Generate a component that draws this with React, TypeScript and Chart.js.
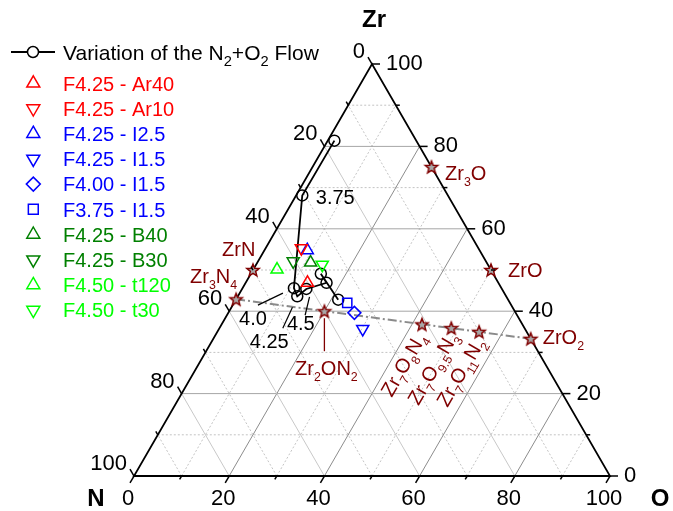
import React, { useEffect, useRef } from 'react';
import { Chart, registerables } from 'chart.js';
Chart.register(...registerables);

// ---------- DATA (ternary compositions in at.%: Zr, O, N) ----------
const flowLabels = ['', '3.75', '4.0', '4.25', '4.5', '', '', ''];
const flowZr = [81.4, 68.1, 45.6, 43.6, 45.4, 46.9, 49.1, 42.8];
const flowO = [1.4, 1.3, 10.8, 12.5, 13.5, 17.0, 14.7, 21.5];
const flowN = [17.2, 30.6, 43.6, 43.9, 41.1, 36.1, 36.2, 35.7];

const sampleNames = ['F4.25 - Ar40', 'F4.25 - Ar10', 'F4.25 - I2.5', 'F4.25 - I1.5', 'F4.00 - I1.5', 'F3.75 - I1.5', 'F4.25 - B40', 'F4.25 - B30', 'F4.50 - t120', 'F4.50 - t30'];
const sampleZr = [46.9, 55.3, 54.8, 35.7, 39.6, 42.0, 51.8, 52.1, 50.1, 51.3];
const sampleO = [13.0, 7.5, 9.0, 30.2, 26.5, 23.8, 11.2, 7.4, 5.0, 13.9];
const sampleN = [40.1, 37.2, 36.2, 34.1, 33.9, 34.2, 37.0, 40.5, 44.9, 34.8];

const compoundNames = ['ZrN', 'Zr_3N_4', 'Zr_3O', 'ZrO', 'ZrO_2', 'Zr_2ON_2', 'Zr_7O_8N_4', 'Zr_7O_{9.5}N_3', 'Zr_7O_{11}N_2'];
const compoundZr = [50, 42.9, 75, 50, 33.3, 40, 36.8, 35.9, 35];
const compoundO = [0, 0, 25, 50, 66.7, 20, 42.1, 48.7, 55];
const compoundN = [50, 57.1, 0, 0, 0, 40, 21.1, 15.4, 10];

const tieLineIdx = [1, 4]; // Zr3N4 -> ZrO2

const majorTicks = [0, 20, 40, 60, 80, 100];
const minorTicks = [10, 30, 50, 70, 90];

// ---------- STYLES / PLACEMENT ----------
const SQ3 = Math.sqrt(3) / 2;
const MAROON = '#800000';
const FONT = '"Liberation Sans", Arial, sans-serif';
const sampleColors = ['#FF0000', '#FF0000', '#0000FF', '#0000FF', '#0000FF', '#0000FF', '#008000', '#008000', '#00FF00', '#00FF00'];
const sampleShapes = ['up', 'down', 'up', 'down', 'diamond', 'square', 'up', 'down', 'up', 'down'];

const compoundLabelDx = [-31, 1, 13.5, 17, 12, 2, -19, -19, -19];
const compoundLabelDy = [-14, -16, 13, 6.7, 5.3, 64, 40, 40, 40];
const compoundLabelMode = ['left', 'right', 'left', 'left', 'left', 'center', 'rot', 'rot', 'rot'];

const flowLabelDx = [0, 33, -41, -28, -5.5, 0, 0, 0];
const flowLabelDy = [0, 3, 31, 46, 36, 0, 0, 0];
const flowLeaders: (number[] | null)[] = [null, null, [-36, 17, -11, 5], [-14.5, 32, -4.8, 11], [-1.2, 26.3, 3.2, 8], null, null, null];

function toXY(zr: number, o: number) {
  return { x: o + zr / 2, y: zr * SQ3 };
}

type Part = { t: string; sub: boolean };
function parseRich(s: string): Part[] {
  const out: Part[] = [];
  let buf = '';
  let i = 0;
  while (i < s.length) {
    if (s[i] === '_') {
      if (buf) { out.push({ t: buf, sub: false }); buf = ''; }
      if (s[i + 1] === '{') {
        const j = s.indexOf('}', i);
        out.push({ t: s.slice(i + 2, j), sub: true });
        i = j + 1;
      } else {
        out.push({ t: s[i + 1], sub: true });
        i += 2;
      }
    } else {
      buf += s[i];
      i++;
    }
  }
  if (buf) out.push({ t: buf, sub: false });
  return out;
}

function drawRich(ctx: CanvasRenderingContext2D, s: string, x: number, y: number, size: number, color: string, align: string, subRatio = 0.62) {
  const parts = parseRich(s);
  const subSize = size * subRatio;
  let total = 0;
  const widths = parts.map((p) => {
    ctx.font = `${p.sub ? subSize : size}px ${FONT}`;
    const w = ctx.measureText(p.t).width;
    total += w;
    return w;
  });
  let cx = x;
  if (align === 'center') cx = x - total / 2;
  else if (align === 'right') cx = x - total;
  ctx.fillStyle = color;
  ctx.textAlign = 'left';
  ctx.textBaseline = 'alphabetic';
  parts.forEach((p, k) => {
    ctx.font = `${p.sub ? subSize : size}px ${FONT}`;
    ctx.fillText(p.t, cx, p.sub ? y + size * 0.3 : y);
    cx += widths[k];
  });
}

function drawMarker(ctx: CanvasRenderingContext2D, shape: string, x: number, y: number, color: string) {
  ctx.save();
  ctx.strokeStyle = color;
  ctx.lineWidth = 1.5;
  ctx.beginPath();
  if (shape === 'up' || shape === 'down') {
    const r = 7.5;
    const s = shape === 'up' ? 1 : -1;
    ctx.moveTo(x, y - s * r);
    ctx.lineTo(x + r * 0.866, y + s * r * 0.5);
    ctx.lineTo(x - r * 0.866, y + s * r * 0.5);
    ctx.closePath();
  } else if (shape === 'diamond') {
    const r = 7;
    ctx.moveTo(x - r, y); ctx.lineTo(x, y - r); ctx.lineTo(x + r, y); ctx.lineTo(x, y + r); ctx.closePath();
  } else if (shape === 'square') {
    const h = 7 * Math.SQRT1_2;
    ctx.rect(x - h, y - h, 2 * h, 2 * h);
  } else if (shape === 'circle') {
    ctx.arc(x, y, 5.5, 0, Math.PI * 2);
  }
  ctx.stroke();
  ctx.restore();
}

const ternaryPlugin = {
  id: 'ternary',
  beforeDatasetsDraw(chart: any) {
    const ctx: CanvasRenderingContext2D = chart.ctx;
    const xs = chart.scales.x, ys = chart.scales.y;
    const P = (zr: number, o: number) => ({ x: xs.getPixelForValue(o + zr / 2), y: ys.getPixelForValue(zr * SQ3) });
    const line = (a: any, b: any) => { ctx.beginPath(); ctx.moveTo(a.x, a.y); ctx.lineTo(b.x, b.y); ctx.stroke(); };
    ctx.save();
    // minor dotted grid
    ctx.setLineDash([2, 2]);
    ctx.lineWidth = 1;
    ctx.strokeStyle = '#c4c4c4';
    minorTicks.forEach((v) => {
      line(P(v, 0), P(v, 100 - v));
      line(P(0, v), P(100 - v, v));
      line(P(0, 100 - v), P(100 - v, 0));
    });
    ctx.setLineDash([]);
    majorTicks.slice(1, 5).forEach((v) => {
      ctx.strokeStyle = '#a6a6a6';
      line(P(v, 0), P(v, 100 - v));
      ctx.strokeStyle = '#8c8c8c';
      line(P(0, v), P(100 - v, v));
      ctx.strokeStyle = '#c8c8c8';
      line(P(0, 100 - v), P(100 - v, 0));
    });
    // triangle edges
    ctx.strokeStyle = '#000';
    ctx.lineWidth = 1.8;
    ctx.beginPath();
    const a = P(0, 0), b = P(0, 100), c = P(100, 0);
    ctx.moveTo(a.x, a.y); ctx.lineTo(b.x, b.y); ctx.lineTo(c.x, c.y); ctx.closePath();
    ctx.stroke();
    ctx.restore();
  },
  afterDatasetsDraw(chart: any) {
    const ctx: CanvasRenderingContext2D = chart.ctx;
    const xs = chart.scales.x, ys = chart.scales.y;
    const P = (zr: number, o: number) => ({ x: xs.getPixelForValue(o + zr / 2), y: ys.getPixelForValue(zr * SQ3) });
    ctx.save();
    // ticks
    ctx.strokeStyle = '#000';
    ctx.lineWidth = 1.5;
    const tick = (p: any, dx: number, dy: number, len: number) => {
      ctx.beginPath(); ctx.moveTo(p.x, p.y); ctx.lineTo(p.x + dx * len, p.y + dy * len); ctx.stroke();
    };
    const allT = [...majorTicks.map((v) => [v, 8]), ...minorTicks.map((v) => [v, 4])];
    allT.forEach(([v, len]) => {
      tick(P(0, v), -0.5, SQ3, len); // bottom (O)
      tick(P(v, 100 - v), 1, 0, len); // right (Zr)
      tick(P(100 - v, 0), -0.5, -SQ3, len); // left (N)
    });
    // tick labels
    ctx.fillStyle = '#000';
    ctx.font = `22px ${FONT}`;
    majorTicks.forEach((v) => {
      const pb = P(0, v);
      ctx.textAlign = 'center'; ctx.textBaseline = 'middle';
      ctx.fillText(String(v), pb.x - 6, pb.y + 23);
      const pr = P(v, 100 - v);
      ctx.textAlign = 'left';
      ctx.fillText(String(v), pr.x + 14, pr.y);
      const pl = P(100 - v, 0);
      ctx.textAlign = 'right';
      ctx.fillText(String(v), pl.x - 7, pl.y - 12);
    });
    // axis titles
    ctx.font = `bold 24px ${FONT}`;
    ctx.textAlign = 'center'; ctx.textBaseline = 'middle';
    const top = P(100, 0), bl = P(0, 0), br = P(0, 100);
    ctx.fillText('Zr', top.x + 2, top.y - 44);
    ctx.fillText('N', bl.x - 38, bl.y + 23);
    ctx.fillText('O', br.x + 50, br.y + 23);

    // compound labels
    compoundNames.forEach((name, i) => {
      const p = P(compoundZr[i], compoundO[i]);
      const mode = compoundLabelMode[i];
      const lx = p.x + compoundLabelDx[i], ly = p.y + compoundLabelDy[i];
      if (mode === 'rot') {
        ctx.save();
        ctx.translate(lx, ly);
        ctx.rotate(-Math.PI / 3);
        drawRich(ctx, name, 0, 7.2, 20, MAROON, 'center');
        ctx.restore();
      } else {
        drawRich(ctx, name, lx, ly, 20, MAROON, mode);
      }
      if (mode === 'center') {
        ctx.strokeStyle = MAROON;
        ctx.lineWidth = 1.3;
        ctx.beginPath(); ctx.moveTo(p.x, p.y + 7); ctx.lineTo(p.x, p.y + 40); ctx.stroke();
      }
    });

    // flow labels and leaders
    flowLabels.forEach((lab, i) => {
      if (!lab) return;
      const p = P(flowZr[i], flowO[i]);
      ctx.fillStyle = '#000';
      ctx.font = `20px ${FONT}`;
      ctx.textAlign = 'center'; ctx.textBaseline = 'middle';
      ctx.fillText(lab, p.x + flowLabelDx[i], p.y + flowLabelDy[i]);
      const ld = flowLeaders[i];
      if (ld) {
        ctx.strokeStyle = '#000';
        ctx.lineWidth = 1.2;
        ctx.beginPath(); ctx.moveTo(p.x + ld[0], p.y + ld[1]); ctx.lineTo(p.x + ld[2], p.y + ld[3]); ctx.stroke();
      }
    });
    ctx.restore();
  },
  afterDraw(chart: any) {
    const ctx: CanvasRenderingContext2D = chart.ctx;
    ctx.save();
    // flow legend entry
    ctx.strokeStyle = '#000';
    ctx.lineWidth = 1.8;
    ctx.beginPath(); ctx.moveTo(11, 52); ctx.lineTo(55, 52); ctx.stroke();
    ctx.fillStyle = '#fff';
    ctx.beginPath(); ctx.arc(33, 52, 5.5, 0, Math.PI * 2); ctx.fill();
    drawMarker(ctx, 'circle', 33, 52, '#000');
    drawRich(ctx, 'Variation of the N_2+O_2 Flow', 63, 59.5, 21, '#000', 'left', 0.7);
    sampleNames.forEach((name, i) => {
      const y = 83.3 + i * 25.2;
      drawMarker(ctx, sampleShapes[i], 33.3, y, sampleColors[i]);
      drawRich(ctx, name, 63, y + 7.2, 20, sampleColors[i], 'left');
    });
    ctx.restore();
  },
};

export default function App() {
  const ref = useRef<HTMLCanvasElement>(null);
  useEffect(() => {
    const canvas = ref.current;
    if (!canvas) return;
    const star = document.createElement('canvas');
    star.width = 18; star.height = 18;
    const sc = star.getContext('2d')!;
    sc.beginPath();
    for (let i = 0; i < 10; i++) {
      const r = i % 2 === 0 ? 6.5 : 2.8;
      const a = -Math.PI / 2 + (i * Math.PI) / 5;
      const px = 9 + r * Math.cos(a), py = 9.5 + r * Math.sin(a);
      if (i === 0) sc.moveTo(px, py); else sc.lineTo(px, py);
    }
    sc.closePath();
    sc.fillStyle = '#a8a8a8';
    sc.fill();
    sc.strokeStyle = MAROON;
    sc.lineWidth = 1.5;
    sc.stroke();

    const sampleDatasets = sampleNames.map((name, i) => ({
      label: name,
      data: [toXY(sampleZr[i], sampleO[i])],
      pointStyle: sampleShapes[i] === 'diamond' ? 'rectRot' : sampleShapes[i] === 'square' ? 'rect' : 'triangle',
      rotation: sampleShapes[i] === 'down' ? 180 : 0,
      pointRadius: sampleShapes[i] === 'up' || sampleShapes[i] === 'down' ? 7 : 6.5,
      pointBorderColor: sampleColors[i],
      pointBackgroundColor: 'rgba(0,0,0,0)',
      pointBorderWidth: 1.5,
      showLine: false,
      clip: false as any,
    }));

    const chart = new Chart(canvas, {
      type: 'scatter',
      data: {
        datasets: [
          ...sampleDatasets,
          {
            label: 'compounds',
            data: compoundNames.map((_, i) => toXY(compoundZr[i], compoundO[i])),
            pointStyle: star as any,
            pointRadius: 7,
            showLine: false,
            clip: false as any,
          },
          {
            label: 'Variation of the N2+O2 Flow',
            data: flowZr.map((z, i) => toXY(z, flowO[i])),
            showLine: true,
            borderColor: '#000',
            borderWidth: 1.8,
            pointStyle: 'circle',
            pointRadius: 5.5,
            pointBorderColor: '#000',
            pointBackgroundColor: 'rgba(0,0,0,0)',
            pointBorderWidth: 1.5,
            tension: 0,
            clip: false as any,
          },
          {
            label: 'tie',
            data: tieLineIdx.map((k) => toXY(compoundZr[k], compoundO[k])),
            showLine: true,
            borderColor: '#8a8a8a',
            borderWidth: 2,
            borderDash: [9, 3, 2, 3],
            pointRadius: 0,
            clip: false as any,
          },
        ] as any,
      },
      options: {
        responsive: false,
        maintainAspectRatio: false,
        animation: false,
        devicePixelRatio: 1,
        events: [],
        layout: { padding: { left: 134, right: 63, top: 64, bottom: 35 } },
        plugins: { legend: { display: false }, tooltip: { enabled: false } },
        scales: {
          x: { type: 'linear', min: 0, max: 100, display: false },
          y: { type: 'linear', min: 0, max: 100 * SQ3, display: false },
        },
      },
      plugins: [ternaryPlugin],
    });
    return () => chart.destroy();
  }, []);
  return (
    <div style={{ position: 'fixed', left: 0, top: 0, width: 673, height: 511, background: '#fff' }}>
      <canvas ref={ref} width={673} height={511} style={{ width: 673, height: 511, display: 'block' }} />
    </div>
  );
}
